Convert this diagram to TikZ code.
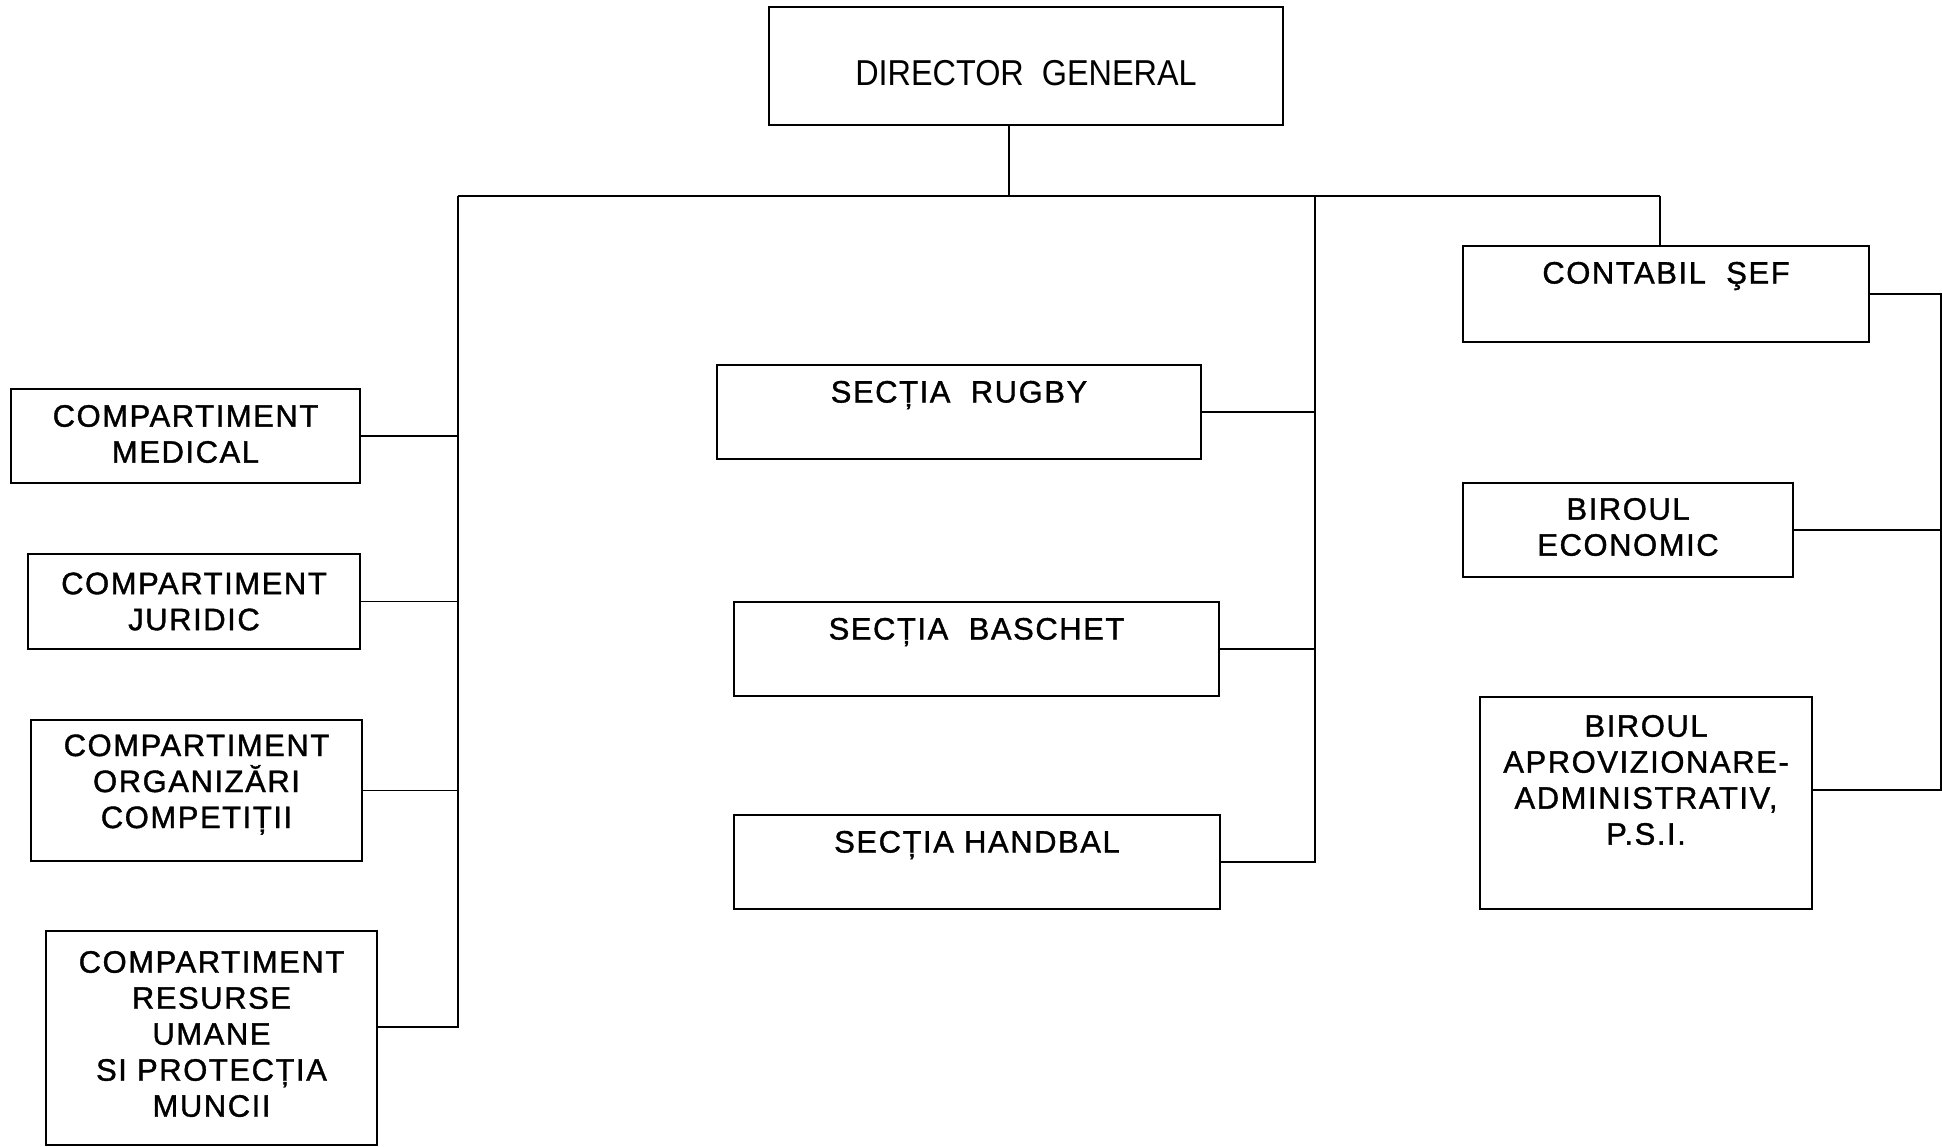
\documentclass[tikz,border=0pt]{standalone}
\usepackage{fontspec}
\setmainfont{Liberation Sans}[LetterSpace=5,FakeBold=1.2]
\newfontfamily\dirfont{Liberation Sans}[FakeStretch=0.9]
\usetikzlibrary{fit}
\begin{document}
\begin{tikzpicture}[x=0.5pt,y=-0.5pt,
  box/.style={draw, line width=0.9pt, inner sep=0pt},
  lbl/.style={font=\fontsize{15.5}{18}\selectfont, align=center, inner sep=0pt},
  dirlbl/.style={font=\dirfont\fontsize{18}{20}\selectfont, align=center, inner sep=0pt},
  conn/.style={line width=0.9pt}]
\useasboundingbox (0,0) rectangle (1942,1146);
% boxes
\node[box, fit={(769,7) (1283,125)}] (dir) {};
\node[box, fit={(11,389) (360,483)}] (med) {};
\node[box, fit={(28,554) (360,649)}] (jur) {};
\node[box, fit={(31,720) (362,861)}] (org) {};
\node[box, fit={(46,931) (377,1145)}] (res) {};
\node[box, fit={(717,365) (1201,459)}] (rug) {};
\node[box, fit={(734,602) (1219,696)}] (bas) {};
\node[box, fit={(734,815) (1220,909)}] (hand) {};
\node[box, fit={(1463,246) (1869,342)}] (cont) {};
\node[box, fit={(1463,483) (1793,577)}] (eco) {};
\node[box, fit={(1480,697) (1812,909)}] (apr) {};
% texts
\node[dirlbl] (tdir) at ([yshift=-3.5pt]dir.center) {DIRECTOR\ \ GENERAL};
\node[lbl] (tmed) at ([yshift=1pt]med.center) {COMPARTIMENT\\MEDICAL};
\node[lbl] (tjur) at (jur.center) {COMPARTIMENT\\JURIDIC};
\node[lbl] (torg) at ([yshift=3pt]org.center) {COMPARTIMENT\\ORGANIZĂRI\\COMPETIȚII};
\node[lbl] (tres) at ([yshift=2pt]res.center) {COMPARTIMENT\\RESURSE\\UMANE\\SI PROTECȚIA\\MUNCII};
\node[lbl] (trug) at ([yshift=8.5pt]rug.center) {SECȚIA\ \ RUGBY};
\node[lbl] (tbas) at ([yshift=8.5pt]bas.center) {SECȚIA\ \ BASCHET};
\node[lbl] (thand) at ([yshift=8.5pt]hand.center) {SECȚIA HANDBAL};
\node[lbl] (tcont) at ([yshift=9pt]cont.center) {CONTABIL\ \ ŞEF};
\node[lbl] (teco) at ([yshift=1.5pt]eco.center) {BIROUL\\ECONOMIC};
\node[lbl] (tapr) at ([yshift=11.5pt]apr.center) {BIROUL\\APROVIZIONARE-\\ADMINISTRATIV,\\P.S.I.};
% connector coordinates
\coordinate (drop) at (1009,196);
\coordinate (busL) at (458,196);
\coordinate (busM) at (1315,196);
\coordinate (busR) at (1660,196);
\coordinate (lbot) at (458,1027);
\coordinate (rb) at (1941,790);
% connectors
\draw[conn] (drop |- dir.south) -- (drop);
\draw[conn] (busL) -- (busR);
\draw[conn] (busR) -- (busR |- cont.north);
\draw[conn] (busL) -- (lbot) -- (lbot -| res.east);
\foreach \n in {med,jur,org} \draw[conn] (\n.east) -- (\n.east -| busL);
\draw[conn] (busM) -- (busM |- hand.east) -- (hand.east);
\draw[conn] (rug.east) -- (rug.east -| busM);
\draw[conn] (bas.east) -- (bas.east -| busM);
\draw[conn] (cont.east) -- (cont.east -| rb) -- (rb) -- (rb -| apr.east);
\draw[conn] (eco.east) -- (eco.east -| rb);
\end{tikzpicture}
\end{document}
